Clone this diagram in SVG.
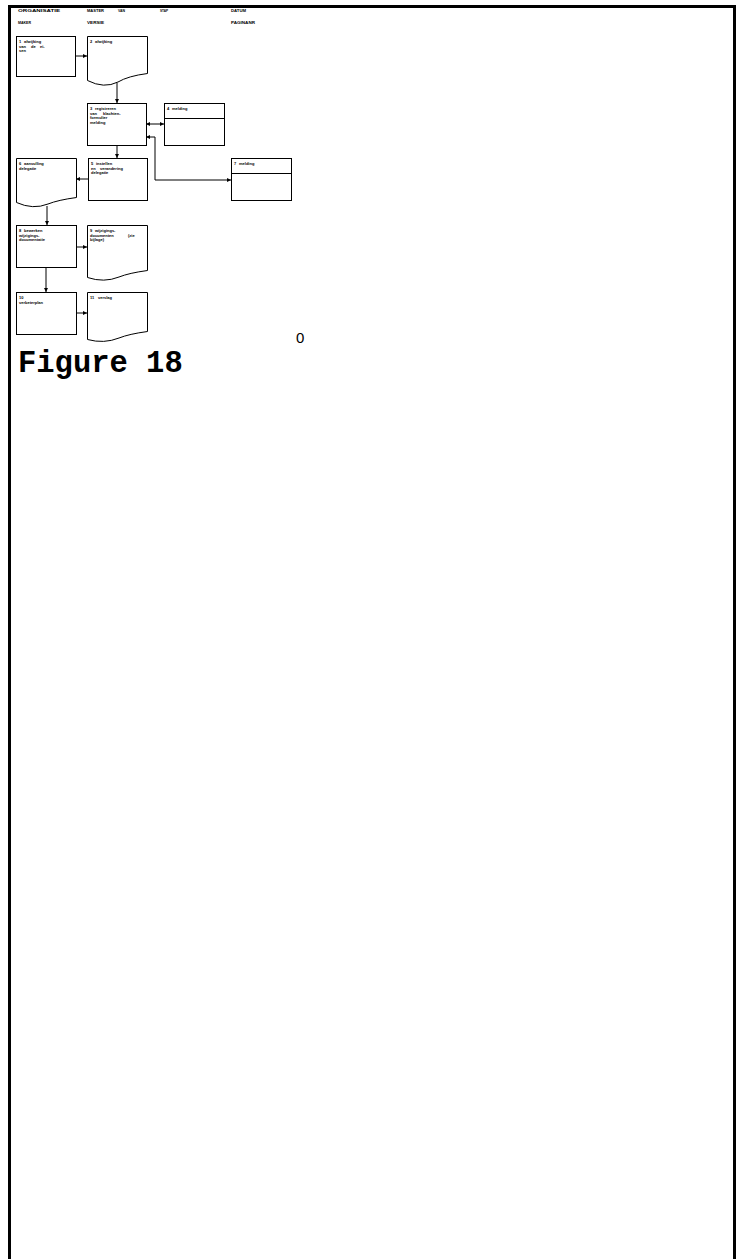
<svg xmlns="http://www.w3.org/2000/svg" width="743" height="1259" viewBox="0 0 743 1259">
<style>
.box{fill:#fff;stroke:#000;stroke-width:1}
.ln{fill:none;stroke:#000;stroke-width:1}
.t{font-family:"Liberation Sans",Arial,sans-serif;font-size:4px;font-weight:bold;fill:#000}
.h{font-family:"Liberation Sans",Arial,sans-serif;font-size:4px;font-weight:bold;fill:#000}
</style>
<defs>
<marker id="ah" viewBox="0 0 6 6" refX="6" refY="3" markerWidth="4" markerHeight="4" orient="auto-start-reverse" markerUnits="userSpaceOnUse">
<path d="M0,0 L6,3 L0,6 Z" fill="#000"/>
</marker>
</defs>
<rect width="743" height="1259" fill="#fff"/>
<g id="frame">
<path d="M9.5,1259 V6.5 H734.5 V1259" fill="none" stroke="#000" stroke-width="3"/>
</g>
<g id="header">
<text class="h" x="18" y="12" textLength="42" lengthAdjust="spacingAndGlyphs">ORGANISATIE</text>
<text class="h" x="87" y="12" textLength="17" lengthAdjust="spacingAndGlyphs">MASTER</text>
<text class="h" x="118" y="12" textLength="7" lengthAdjust="spacingAndGlyphs">VAN</text>
<text class="h" x="160" y="12" textLength="8" lengthAdjust="spacingAndGlyphs">STAP</text>
<text class="h" x="231" y="12" textLength="15" lengthAdjust="spacingAndGlyphs">DATUM</text>
<text class="h" x="18" y="24" textLength="13" lengthAdjust="spacingAndGlyphs">MAKER</text>
<text class="h" x="87" y="24" textLength="17" lengthAdjust="spacingAndGlyphs">VERSIE</text>
<text class="h" x="231" y="24" textLength="24" lengthAdjust="spacingAndGlyphs">PAGINANR</text>
</g>
<g id="connectors">
<line class="ln" x1="76" y1="56" x2="87" y2="56" marker-end="url(#ah)"/>
<line class="ln" x1="117" y1="83" x2="117" y2="103" marker-end="url(#ah)"/>
<line class="ln" x1="146" y1="124" x2="164" y2="124" marker-start="url(#ah)" marker-end="url(#ah)"/>
<polyline class="ln" points="146,137 155,137 155,180 231,180" marker-start="url(#ah)" marker-end="url(#ah)"/>
<line class="ln" x1="117" y1="146" x2="117" y2="158" marker-end="url(#ah)"/>
<line class="ln" x1="88" y1="179" x2="76" y2="179" marker-end="url(#ah)"/>
<line class="ln" x1="47" y1="206" x2="47" y2="225" marker-end="url(#ah)"/>
<line class="ln" x1="76" y1="247" x2="87" y2="247" marker-end="url(#ah)"/>
<line class="ln" x1="46" y1="267" x2="46" y2="292" marker-end="url(#ah)"/>
<line class="ln" x1="76" y1="313" x2="87" y2="313" marker-end="url(#ah)"/>
</g>
<g id="n1">
<rect class="box" x="16.5" y="36.5" width="59" height="40"/>
<text class="t" x="19" y="43">1 <tspan x="24">afwijking</tspan></text>
<text class="t" x="19" y="47.5">van <tspan x="31">de</tspan><tspan x="40">ei-</tspan></text>
<text class="t" x="19" y="52">sen</text>
</g>
<g id="n2">
<path class="box" d="M87.5,36.5 H147.5 V73.5 Q128,76 118,82 Q104,89 87.5,80.5 Z"/>
<text class="t" x="90" y="43">2 <tspan x="95">afwijking</tspan></text>
</g>
<g id="n3">
<rect class="box" x="87.5" y="103.5" width="59" height="42"/>
<text class="t" x="90" y="110">3 <tspan x="95">registreren</tspan></text>
<text class="t" x="90" y="114.5">van <tspan x="103">klachten-</tspan></text>
<text class="t" x="90" y="119">formulier</text>
<text class="t" x="90" y="123.5">melding</text>
</g>
<g id="n4">
<rect class="box" x="164.5" y="103.5" width="60" height="42"/>
<line class="ln" x1="164.5" y1="118.5" x2="224.5" y2="118.5"/>
<text class="t" x="167" y="110">4 <tspan x="172">melding</tspan></text>
</g>
<g id="n5">
<rect class="box" x="88.5" y="158.5" width="59" height="42"/>
<text class="t" x="91" y="165">5 <tspan x="96">instellen</tspan></text>
<text class="t" x="91" y="169.5">en <tspan x="100">verandering</tspan></text>
<text class="t" x="91" y="174">delegatie</text>
</g>
<g id="n6">
<path class="box" d="M16.5,158.5 H76.5 V197.5 Q58,200 48,204 Q33,210 16.5,202.5 Z"/>
<text class="t" x="19" y="165">6 <tspan x="24">aanvulling</tspan></text>
<text class="t" x="19" y="169.5">delegatie</text>
</g>
<g id="n7">
<rect class="box" x="231.5" y="158.5" width="60" height="42"/>
<line class="ln" x1="231.5" y1="173.5" x2="291.5" y2="173.5"/>
<text class="t" x="234" y="165">7 <tspan x="239">melding</tspan></text>
</g>
<g id="n8">
<rect class="box" x="16.5" y="225.5" width="60" height="42"/>
<text class="t" x="19" y="232">8 <tspan x="24">bewerken</tspan></text>
<text class="t" x="19" y="236.5">wijzigings-</text>
<text class="t" x="19" y="241">documentatie</text>
</g>
<g id="n9">
<path class="box" d="M87.5,225.5 H147.5 V270.5 Q129,273 119,277 Q104,283 87.5,277.5 Z"/>
<text class="t" x="90" y="232">9 <tspan x="95">wijzigings-</tspan></text>
<text class="t" x="90" y="236.5">documenten <tspan x="128">(zie</tspan></text>
<text class="t" x="90" y="241">bijlage)</text>
</g>
<g id="n10">
<rect class="box" x="16.5" y="292.5" width="60" height="42"/>
<text class="t" x="19" y="299">10</text>
<text class="t" x="19" y="303.5">verbeterplan</text>
</g>
<g id="n11">
<path class="box" d="M87.5,292.5 H147.5 V331.5 Q129,334 119,338 Q104,344 87.5,339.5 Z"/>
<text class="t" x="90" y="299">11 <tspan x="98">verslag</tspan></text>
</g>
<text x="296" y="343" font-family="Liberation Sans, Arial, sans-serif" font-size="15" fill="#000">0</text>
<text x="18" y="372" font-family="Liberation Mono, Courier New, monospace" font-size="30.5" font-weight="bold" fill="#000">Figure 18</text>
</svg>
